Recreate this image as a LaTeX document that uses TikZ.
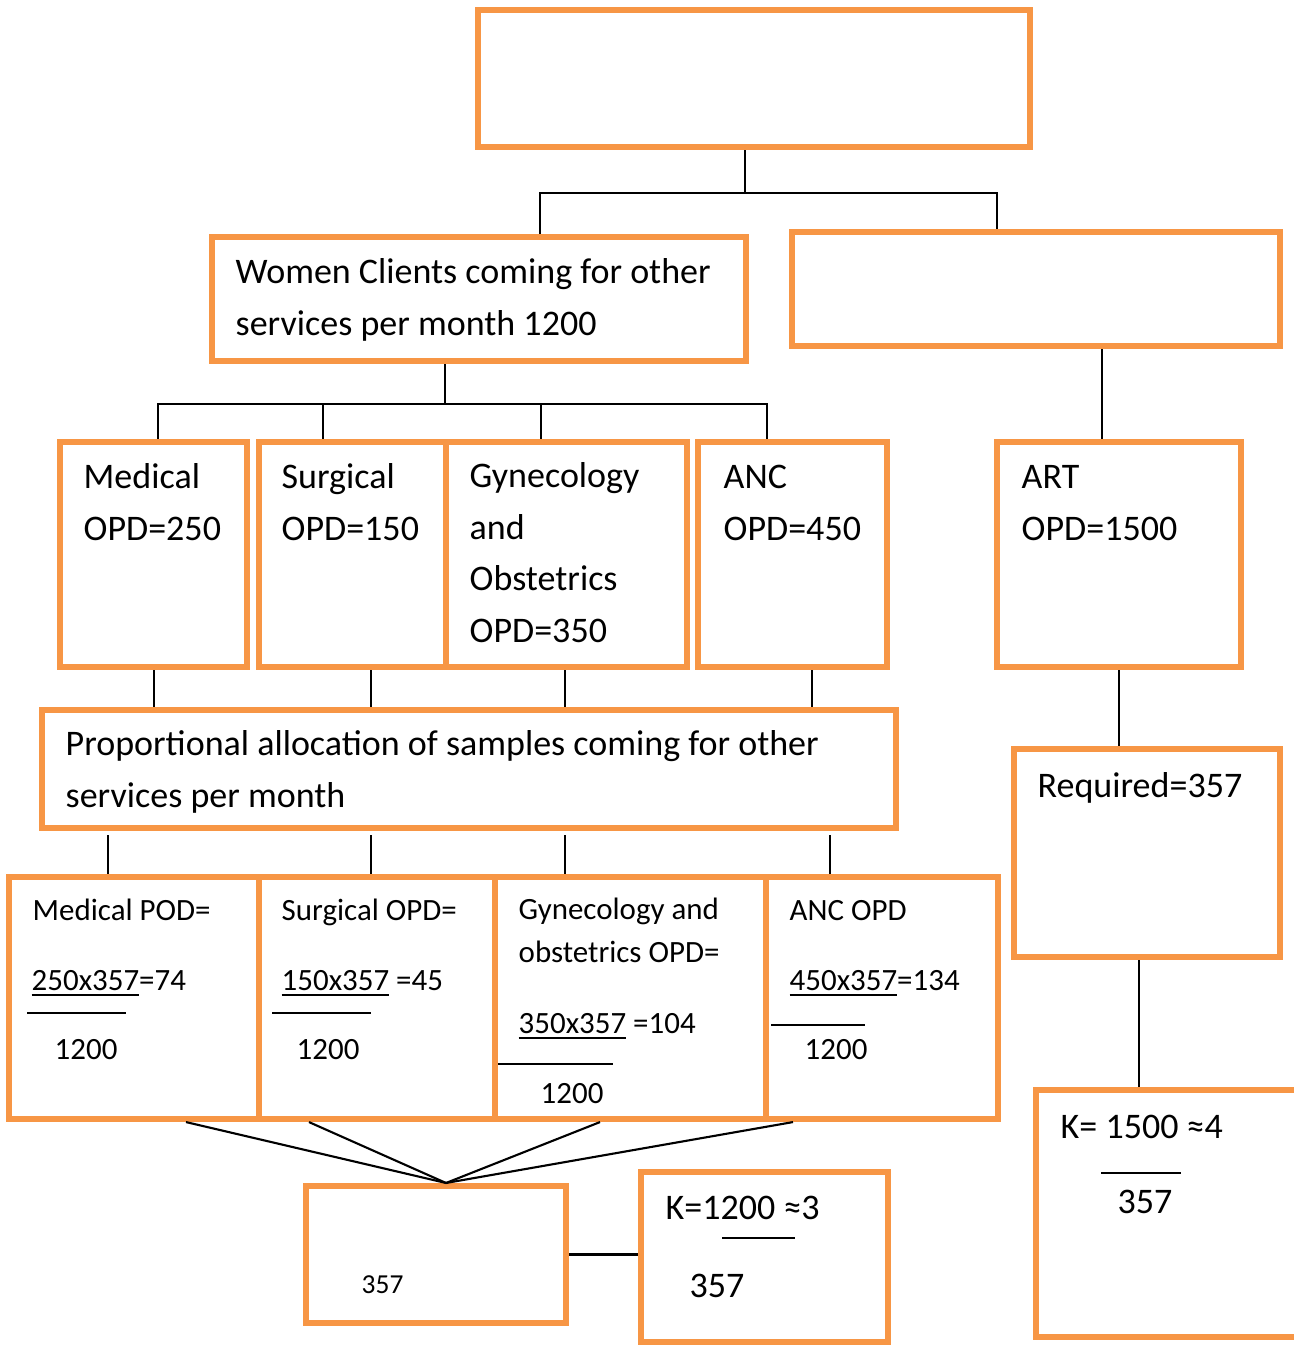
\documentclass[tikz,border=0pt]{standalone}
\usepackage{fontspec}
\setmainfont{Carlito}
\usepackage{tikz}
\definecolor{myorange}{rgb}{0.97, 0.59, 0.27}
\newcommand{\bigfont}{\fontsize{10.24}{14.6}\selectfont}
\newcommand{\smallfont}{\fontsize{8.8}{12}\selectfont}
\newcommand{\tinyfont}{\fontsize{7.8}{9}\selectfont}

\begin{document}
\begin{tikzpicture}[x=0.01cm, y=-0.01cm,
    box/.style={rectangle, draw=myorange, line width=1.7pt, inner sep=0},
    txt/.style={anchor=base west, inner sep=0, align=left, font=\bigfont},
    stxt/.style={anchor=base west, inner sep=0, align=left, font=\smallfont},
    link/.style={line width=0.6pt},
    bar/.style={line width=0.5pt}]

    \useasboundingbox (0,0) rectangle (1293,1345);

    % boxes
    \node[box, minimum width=5.52cm, minimum height=1.37cm] (top) at (754,78.5) {};
    \node[box, minimum width=5.34cm, minimum height=1.24cm] (women) at (479,299) {};
    \node[box, minimum width=4.88cm, minimum height=1.14cm] (rblank) at (1036,289) {};
    \node[box, minimum width=1.87cm, minimum height=2.25cm] (med) at (153.5,554.5) {};
    \node[box, minimum width=1.87cm, minimum height=2.25cm] (surg) at (352.5,554.5) {};
    \node[box, minimum width=2.41cm, minimum height=2.25cm] (gyn) at (566.5,554.5) {};
    \node[box, minimum width=1.89cm, minimum height=2.25cm] (anc) at (792.5,554.5) {};
    \node[box, minimum width=2.44cm, minimum height=2.25cm] (art) at (1119,554.5) {};
    \node[box, minimum width=8.54cm, minimum height=1.18cm] (prop) at (469,769) {};
    \node[box, minimum width=2.66cm, minimum height=2.08cm] (req) at (1147,853) {};
    \node[box, minimum width=2.50cm, minimum height=2.42cm] (mpod) at (134,998) {};
    \node[box, minimum width=2.36cm, minimum height=2.42cm] (sopd) at (377,998) {};
    \node[box, minimum width=2.71cm, minimum height=2.42cm] (gopd) at (630.5,998) {};
    \node[box, minimum width=2.32cm, minimum height=2.42cm] (aopd) at (882,998) {};
    \node[box, minimum width=2.74cm, minimum height=2.47cm] (kart) at (1173,1213.5) {};
    \node[box, minimum width=2.60cm, minimum height=1.37cm] (samp) at (436,1254.5) {};
    \node[box, minimum width=2.47cm, minimum height=1.70cm] (kopd) at (764.5,1257) {};

    % texts (base = last line)
    \node[txt] (womenT) at (235,335) {Women Clients coming for other\\services per month 1200};
    \node[txt] (medT) at (83,540) {Medical\\OPD=250};
    \node[txt] (surgT) at (281,540) {Surgical\\OPD=150};
    \node[txt] (gynT) at (469,642) {Gynecology\\and\\Obstetrics\\OPD=350};
    \node[txt] (ancT) at (723,540) {ANC\\OPD=450};
    \node[txt] (artT) at (1021,540) {ART\\OPD=1500};
    \node[txt] (propT) at (65,807) {Proportional allocation of samples coming for other\\services per month};
    \node[txt] (reqT) at (1037,797) {Required=357};

    \node[stxt] (mpodT) at (32,920) {Medical POD=};
    \node[stxt] (mpodN) at (31,990) {\underline{250x357}=74};
    \node[stxt] (mpodD) at (54,1059) {1200};
    \node[stxt] (sopdT) at (281,920) {Surgical OPD=};
    \node[stxt] (sopdN) at (281,990) {\underline{150x357} =45};
    \node[stxt] (sopdD) at (296,1059) {1200};
    \node[stxt] (gopdT) at (518,962) {Gynecology and\\obstetrics OPD=};
    \node[stxt] (gopdN) at (518,1033) {\underline{350x357} =104};
    \node[stxt] (gopdD) at (540,1103) {1200};
    \node[stxt] (aopdT) at (789,920) {ANC OPD};
    \node[stxt] (aopdN) at (789,990) {\underline{450x357}=134};
    \node[stxt] (aopdD) at (804,1059) {1200};

    \node[anchor=base west, inner sep=0, font=\tinyfont] (sampT) at (361,1293) {357};
    \node[txt] (kopdN) at (665,1219) {K=1200 ≈3};
    \node[txt] (kopdD) at (689,1297) {357};
    \node[txt] (kartN) at (1060,1138) {K= 1500 ≈4};
    \node[txt] (kartD) at (1117,1213) {357};

    % fraction bars
    \draw[bar] (27,1013) -- (126,1013);
    \draw[bar] (272,1013) -- (371,1013);
    \draw[bar] (498,1064) -- (613,1064);
    \draw[bar] (771,1025) -- (865,1025);
    \draw[bar] (722,1238) -- (795,1238);
    \draw[bar] (1101,1173) -- (1181,1173);

    % connectors
    \coordinate (tbus) at (745,193);
    \draw[link] (top.south -| tbus) -- (tbus);
    \draw[link] (women.north -| 540,0) |- (tbus) -| (rblank.north -| 997,0);
    \coordinate (wbus) at (445,404);
    \draw[link] (women.south -| wbus) -- (wbus);
    \foreach \n/\x in {med/158, surg/323, gyn/541, anc/767}
        \draw[link] (\n.north -| \x,0) |- (wbus);
    \foreach \n/\x in {med/154, surg/371, gyn/565, anc/812}
        \draw[link] (\n.south -| \x,0) -- (prop.north -| \x,0);
    \foreach \n/\x in {mpod/108, sopd/371, gopd/565, aopd/830}
        \draw[link] (\n.north -| \x,0) -- ++(0,-39);
    \coordinate (fan) at ([xshift=0.1cm]samp.north);
    \foreach \n/\x in {mpod/186, sopd/309, gopd/600, aopd/793}
        \draw[link] (\n.south -| \x,0) -- (fan);
    \draw[link] (samp.east) -- (kopd.west |- samp.east);
    \draw[link] (rblank.south -| 1102,0) -- (art.north -| 1102,0);
    \draw[link] (art.south -| 1119,0) -- (req.north -| 1119,0);
    \draw[link] (req.south -| 1139,0) -- (kart.north -| 1139,0);
\end{tikzpicture}
\end{document}
